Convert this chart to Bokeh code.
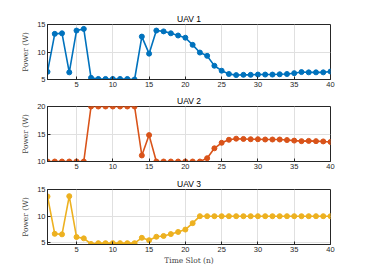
from bokeh.plotting import figure
from bokeh.layouts import column
from bokeh.models import Range1d, FixedTicker
from bokeh.embed import file_html
from bokeh.resources import INLINE

slots = list(range(1, 41))
uav1 = [6.4, 13.3, 13.4, 6.3, 13.9, 14.2, 5.3, 5.1, 5.1, 5.1, 5.1, 5.1, 5.0,
        12.8, 9.7, 13.9, 13.75, 13.4, 13.0, 12.6, 11.3, 9.9, 9.3, 7.5, 6.6,
        6.0, 5.8, 5.85, 5.85, 5.9, 5.9, 5.9, 5.95, 6.0, 6.15, 6.35, 6.3, 6.3, 6.3, 6.45]
uav2 = [10, 10, 10, 10, 10, 10, 20, 20, 20, 20, 20, 20, 20,
        11.1, 14.8, 10, 10, 10, 10, 10, 10, 10, 10.6, 12.4, 13.4,
        13.95, 14.15, 14.1, 14.05, 14.05, 14.0, 14.0, 14.0, 13.9, 13.8, 13.7, 13.75, 13.7, 13.65, 13.55]
uav3 = [13.7, 6.7, 6.6, 13.75, 6.1, 5.85, 4.8, 4.95, 4.95, 4.95, 4.95, 4.95, 4.95,
        5.95, 5.5, 6.15, 6.3, 6.65, 7.05, 7.5, 8.7, 10, 10, 10, 10,
        10, 10, 10, 10, 10, 10, 10, 10, 10, 10, 10, 10, 10, 10, 10]
titles = ["UAV 1", "UAV 2", "UAV 3"]
yranges = [(5, 15), (10, 20), (4.7, 15)]
yticks = [[5, 10, 15], [10, 15, 20], [5, 10, 15]]
xticks = [5, 10, 15, 20, 25, 30, 35, 40]
colors = ["#0072BD", "#D95319", "#EDB120"]
series = [uav1, uav2, uav3]

figs = []
for i in range(3):
    last = i == 2
    top = [24, 15, 16][i]
    bottom = 12 if not last else 24
    h = top + 55 + bottom
    p = figure(width=350, height=h, output_backend="svg", toolbar_location=None,
               x_range=Range1d(1, 40), y_range=Range1d(*yranges[i]),
               min_border_left=47, min_border_right=20,
               min_border_top=top, min_border_bottom=bottom)
    p.title.text = titles[i]
    p.title.align = "center"
    p.title.text_font = "Liberation Sans"
    p.title.text_font_size = "8.5px"
    p.title.text_font_style = "normal"
    p.title.text_color = "#000000"
    p.title.standoff = 1
    p.line(slots, series[i], line_color=colors[i], line_width=1.6)
    p.scatter(slots, series[i], size=5, fill_color=colors[i], line_color=colors[i])
    p.xaxis.ticker = FixedTicker(ticks=xticks)
    p.yaxis.ticker = FixedTicker(ticks=yticks[i])
    for ax in (p.xaxis, p.yaxis):
        ax.major_label_text_font = "Liberation Sans"
        ax.major_label_text_font_size = "7.5px"
        ax.major_label_text_color = "#262626"
        ax.axis_line_color = "#262626"
        ax.major_tick_line_color = "#262626"
        ax.major_tick_in = 3
        ax.major_tick_out = 0
        ax.minor_tick_line_color = None
        ax.major_label_standoff = 2
    p.yaxis.axis_label = "Power (W)"
    p.yaxis.axis_label_text_font = "DejaVu Serif"
    p.yaxis.axis_label_text_font_size = "7.5px"
    p.yaxis.axis_label_text_font_style = "normal"
    p.yaxis.axis_label_standoff = 4
    if last:
        p.xaxis.axis_label = "Time Slot (n)"
        p.xaxis.axis_label_text_font = "DejaVu Serif"
        p.xaxis.axis_label_text_font_size = "7.5px"
        p.xaxis.axis_label_text_font_style = "normal"
        p.xaxis.axis_label_standoff = 1
    p.outline_line_color = "#262626"
    p.outline_line_width = 1
    p.grid.grid_line_color = "#e0e0e0"
    p.grid.grid_line_width = 1
    p.background_fill_color = "white"
    p.border_fill_color = "white"
    figs.append(p)

layout = column(*figs, spacing=0)
open("out.html", "w").write(file_html(layout, INLINE))
